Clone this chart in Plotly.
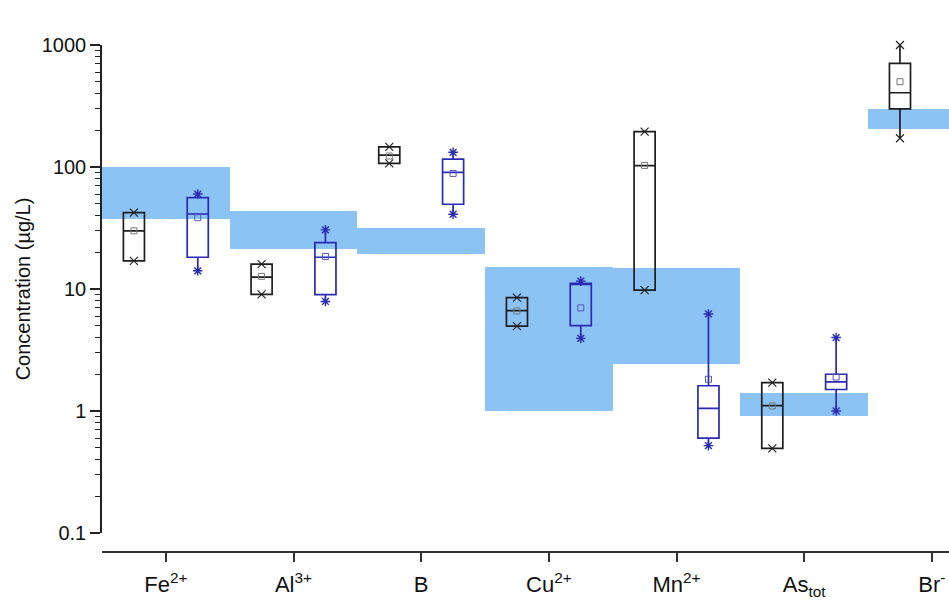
import plotly.graph_objects as go

# ---------------- data ----------------
categories = ["Fe<sup>2+</sup>", "Al<sup>3+</sup>", "B", "Cu<sup>2+</sup>",
              "Mn<sup>2+</sup>", "As<sub>tot</sub>", "Br<sup>-</sup>"]

# guideline / reference ranges (blue bands)
band_low = [37.5, 21.3, 19.4, 1.0, 2.43, 0.91, 205]
band_high = [100, 43.6, 31.6, 15.2, 15.0, 1.40, 299]

# series 1 (black boxes)
s1_min = [17.0, 9.05, 107, 4.97, 9.8, 0.494, 172]
s1_q1 = [17.0, 9.05, 107, 4.97, 9.8, 0.494, 299]
s1_med = [29.9, 12.5, 125, 6.64, 102.6, 1.105, 406]
s1_mean = [30.0, 12.7, 123, 6.6, 103, 1.1, 500]
s1_q3 = [42.2, 16.0, 146, 8.5, 195, 1.71, 708]
s1_max = [42.2, 16.0, 146, 8.5, 195, 1.71, 1000]

# series 2 (blue boxes)
s2_min = [14.1, 7.9, 41, 3.94, 0.52, 1.0]
s2_q1 = [18.2, 9.0, 49.5, 5.0, 0.60, 1.5]
s2_med = [41.2, 18.2, 90.5, 11.1, 1.05, 1.73]
s2_mean = [38.4, 18.5, 88.6, 7.0, 1.82, 1.9]
s2_q3 = [56, 24, 116, 11.1, 1.61, 2.0]
s2_max = [60, 30.5, 132, 11.6, 6.24, 4.0]

y_ticks = [0.1, 1, 10, 100, 1000]
y_ticktext = ["0.1", "1", "10", "100", "1000"]

# ---------------- styles ----------------
BAND = "#8cc3f5"
BLACK = "#1e1e1e"
BLUE = "#2a2ab4"
FONT = "Liberation Sans, Arial, sans-serif"

pos = list(range(len(categories)))
x1 = [p - 0.25 for p in pos[:len(s1_med)]]
x2 = [p + 0.25 for p in pos[:len(s2_med)]]

fig = go.Figure()

# blue bands (floating bars from low to high)
fig.add_trace(go.Bar(
    x=pos, y=[h - l for l, h in zip(band_low, band_high)], base=band_low,
    width=1.0, marker=dict(color=BAND, line=dict(width=0)),
    hoverinfo="skip"))

# boxes
for xs, q1, med, q3, lo, hi, col in [
        (x1, s1_q1, s1_med, s1_q3, s1_min, s1_max, BLACK),
        (x2, s2_q1, s2_med, s2_q3, s2_min, s2_max, BLUE)]:
    fig.add_trace(go.Box(
        x=xs, q1=q1, median=med, q3=q3, lowerfence=lo, upperfence=hi,
        width=0.165, whiskerwidth=0, boxpoints=False,
        fillcolor="rgba(0,0,0,0)", line=dict(color=col, width=1.7)))

# whisker end markers
fig.add_trace(go.Scatter(
    x=x1 + x1, y=s1_min + s1_max, mode="markers", cliponaxis=False,
    marker=dict(symbol="x-thin", size=8, line=dict(color=BLACK, width=1.1))))
fig.add_trace(go.Scatter(
    x=x2 + x2, y=s2_min + s2_max, mode="markers", cliponaxis=False,
    marker=dict(symbol="asterisk", size=8, line=dict(color=BLUE, width=1.4))))

# mean markers
fig.add_trace(go.Scatter(
    x=x1, y=s1_mean, mode="markers", cliponaxis=False,
    marker=dict(symbol="square-open", size=6, color="#777777",
                line=dict(width=1))))
fig.add_trace(go.Scatter(
    x=x2, y=s2_mean, mode="markers", cliponaxis=False,
    marker=dict(symbol="square-open", size=6, color="#5555bb",
                line=dict(width=1))))

minor_vals = [m * 10 ** e for e in range(-1, 3) for m in range(2, 10)]

fig.update_layout(
    width=949, height=609,
    margin=dict(l=102, r=0, t=45, b=57),
    paper_bgcolor="white", plot_bgcolor="white",
    showlegend=False, boxmode="overlay", barmode="overlay", bargap=0,
    font=dict(family=FONT, size=20, color="#111111"),
    xaxis=dict(
        range=[-0.5, 6.134], tickmode="array", tickvals=pos,
        ticktext=categories, ticks="outside", ticklen=9, tickwidth=1.5,
        tickcolor="#333333", showline=True, linecolor="#333333",
        linewidth=1.8, showgrid=False, zeroline=False,
        anchor="free", position=0, ticklabelstandoff=4,
        tickfont=dict(family=FONT, size=22)),
    yaxis=dict(
        type="log", range=[-1, 3], domain=[0.0375, 1],
        tickmode="array", tickvals=y_ticks, ticktext=y_ticktext,
        ticks="outside", ticklen=10, tickwidth=1.5, tickcolor="#222222",
        showline=True, linecolor="#222222", linewidth=1.5,
        showgrid=False, zeroline=False,
        tickfont=dict(family=FONT, size=20),
        minor=dict(tickmode="array", tickvals=minor_vals, ticks="outside",
                   ticklen=5, tickwidth=1.2, tickcolor="#222222",
                   showgrid=False),
        title=dict(text="Concentration (µg/L)",
                   font=dict(family=FONT, size=20), standoff=6)),
)

fig.write_html("out.html")
